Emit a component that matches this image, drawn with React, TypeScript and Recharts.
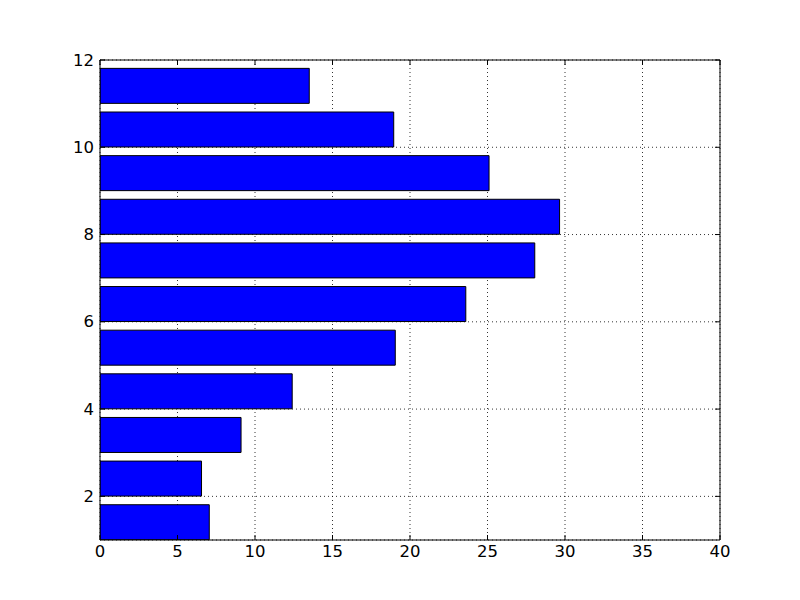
import React from "react";
import {
  ComposedChart,
  Bar,
  XAxis,
  YAxis,
  CartesianGrid,
  ReferenceLine,
} from "recharts";

// bar bottoms (matplotlib barh, align="edge", height 0.8)
const positions = [1, 2, 3, 4, 5, 6, 7, 8, 9, 10, 11];
const values = [7.05, 6.55, 9.1, 12.4, 19.05, 23.6, 28.05, 29.65, 25.1, 18.95, 13.5];
const xTicks = [0, 5, 10, 15, 20, 25, 30, 35, 40];
const yTicks = [2, 4, 6, 8, 10, 12];

const BAR_HEIGHT = 0.8;

const data = positions.map((p, i) => ({ y: p + BAR_HEIGHT / 2, value: values[i] }));

const FONT = "DejaVu Sans, sans-serif";
const FONT_SIZE = 16.5;
const TICK_LEN = 5;
const PLOT_W = 620;
const PLOT_H = 480;

// bottom axis: label + inward ticks on bottom and top edges
const BottomTick = (props: any) => {
  const { x, y, payload } = props;
  const base = y - 8;
  return (
    <g>
      <line x1={x} x2={x} y1={base} y2={base - TICK_LEN} stroke="#000" />
      <line x1={x} x2={x} y1={base - PLOT_H} y2={base - PLOT_H + TICK_LEN} stroke="#000" />
      <text x={x} y={y + 9} textAnchor="middle" fontFamily={FONT} fontSize={FONT_SIZE} fill="#000">
        {payload.value}
      </text>
    </g>
  );
};

// left axis: label + inward ticks on left and right edges
const LeftTick = (props: any) => {
  const { x, y, payload } = props;
  const base = x + 8;
  return (
    <g>
      <line x1={base} x2={base + TICK_LEN} y1={y} y2={y} stroke="#000" />
      <line x1={base + PLOT_W} x2={base + PLOT_W - TICK_LEN} y1={y} y2={y} stroke="#000" />
      <text x={x + 2} y={y + 5.5} textAnchor="end" fontFamily={FONT} fontSize={FONT_SIZE} fill="#000">
        {payload.value}
      </text>
    </g>
  );
};

export default function App() {
  return (
    <div style={{ position: "absolute", left: 0, top: 0, width: 800, height: 600, background: "#fff" }}>
      <ComposedChart
        width={800}
        height={600}
        data={data}
        layout="vertical"
        margin={{ top: 60, right: 80, bottom: 0, left: 0 }}
      >
        <XAxis
          type="number"
          dataKey="value"
          domain={[0, 40]}
          ticks={xTicks}
          allowDataOverflow
          height={60}
          stroke="#000"
          tickLine={false}
          tickSize={0}
          tickMargin={8}
          tick={<BottomTick />}
        />
        <YAxis
          type="number"
          dataKey="y"
          domain={[1, 12]}
          ticks={yTicks}
          reversed
          allowDataOverflow
          width={100}
          stroke="#000"
          tickLine={false}
          tickSize={0}
          tickMargin={8}
          tick={<LeftTick />}
        />
        <Bar
          dataKey="value"
          fill="#0000ff"
          stroke="#000"
          strokeWidth={1}
          barSize={35}
          isAnimationActive={false}
        />
        <CartesianGrid stroke="#000" strokeDasharray="1 3" strokeWidth={0.8} />
        <ReferenceLine y={12} stroke="#000" />
        <ReferenceLine x={40} stroke="#000" />
      </ComposedChart>
    </div>
  );
}
